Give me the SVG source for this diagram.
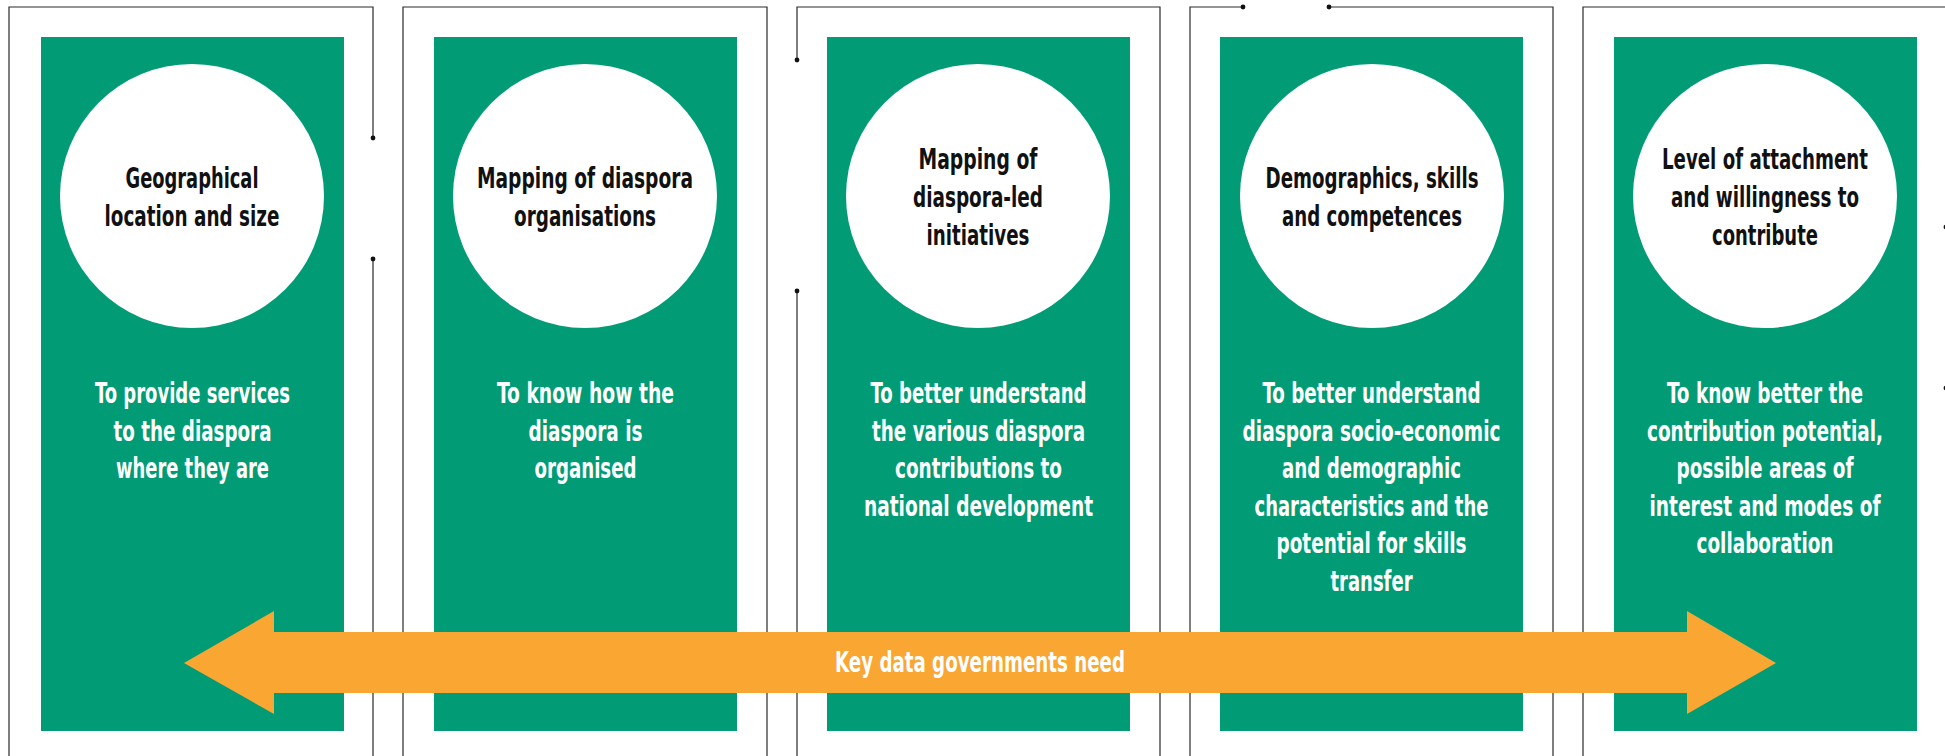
<svg xmlns="http://www.w3.org/2000/svg" width="1945" height="756" viewBox="0 0 1945 756">
  <style>
    .frame { fill: none; stroke: #2a2a2a; stroke-width: 1.2; }
    .dot { fill: #111; }
    .card { fill: #019C76; }
    .disc { fill: #ffffff; }
    .title { font-family: "Liberation Sans Narrow", "DejaVu Sans Condensed", "Roboto", sans-serif; font-weight: bold; font-size: 29px; fill: #111; text-anchor: middle; }
    .desc { font-family: "Liberation Sans Narrow", "DejaVu Sans Condensed", "Roboto", sans-serif; font-weight: bold; font-size: 28px; fill: #ffffff; text-anchor: middle; }
    .band { fill: #F9A633; }
    .bandlabel { font-family: "Liberation Sans Narrow", "DejaVu Sans Condensed", "Roboto", sans-serif; font-weight: bold; font-size: 28px; fill: #ffffff; }
  </style>

  <!-- open frames with dotted break points -->
  <g id="connectors">
    <path class="frame" d="M373,138 V7 H9 V756 M373,259 V756"/>
    <circle class="dot" cx="373" cy="138" r="2.4"/>
    <circle class="dot" cx="373" cy="259" r="2.4"/>

    <path class="frame" d="M403,756 V7 H767 V756"/>

    <path class="frame" d="M797,60 V7 H1160 V756 M797,291 V756"/>
    <circle class="dot" cx="797" cy="60" r="2.4"/>
    <circle class="dot" cx="797" cy="291" r="2.4"/>

    <path class="frame" d="M1243,7 H1190 V756 M1329,7 H1553 V756"/>
    <circle class="dot" cx="1243" cy="7" r="2.4"/>
    <circle class="dot" cx="1329" cy="7" r="2.4"/>

    <path class="frame" d="M1583,756 V7 H1946 V227 M1946,388 V756"/>
    <circle class="dot" cx="1946" cy="227" r="2.4"/>
    <circle class="dot" cx="1946" cy="388" r="2.4"/>
  </g>

  <g id="node-location">
    <rect class="card" x="41" y="37" width="303" height="694"/>
    <circle class="disc" cx="192" cy="196" r="132"/>
    <text class="title" x="192" y="188" textLength="133" lengthAdjust="spacingAndGlyphs">Geographical</text>
    <text class="title" x="192" y="226" textLength="175" lengthAdjust="spacingAndGlyphs">location and size</text>
    <text class="desc" x="192.5" y="403" textLength="195" lengthAdjust="spacingAndGlyphs">To provide services</text>
    <text class="desc" x="192.5" y="440.5" textLength="158" lengthAdjust="spacingAndGlyphs">to the diaspora</text>
    <text class="desc" x="192.5" y="478" textLength="153" lengthAdjust="spacingAndGlyphs">where they are</text>
  </g>

  <g id="node-organisations">
    <rect class="card" x="434" y="37" width="303" height="694"/>
    <circle class="disc" cx="585" cy="196" r="132"/>
    <text class="title" x="585" y="188" textLength="216" lengthAdjust="spacingAndGlyphs">Mapping of diaspora</text>
    <text class="title" x="585" y="226" textLength="142" lengthAdjust="spacingAndGlyphs">organisations</text>
    <text class="desc" x="585.5" y="403" textLength="177" lengthAdjust="spacingAndGlyphs">To know how the</text>
    <text class="desc" x="585.5" y="440.5" textLength="114" lengthAdjust="spacingAndGlyphs">diaspora is</text>
    <text class="desc" x="585.5" y="478" textLength="102" lengthAdjust="spacingAndGlyphs">organised</text>
  </g>

  <g id="node-initiatives">
    <rect class="card" x="827" y="37" width="303" height="694"/>
    <circle class="disc" cx="978" cy="196" r="132"/>
    <text class="title" x="978" y="169" textLength="119" lengthAdjust="spacingAndGlyphs">Mapping of</text>
    <text class="title" x="978" y="207" textLength="130" lengthAdjust="spacingAndGlyphs">diaspora-led</text>
    <text class="title" x="978" y="245" textLength="103" lengthAdjust="spacingAndGlyphs">initiatives</text>
    <text class="desc" x="978.5" y="403" textLength="216" lengthAdjust="spacingAndGlyphs">To better understand</text>
    <text class="desc" x="978.5" y="440.5" textLength="213" lengthAdjust="spacingAndGlyphs">the various diaspora</text>
    <text class="desc" x="978.5" y="478" textLength="167" lengthAdjust="spacingAndGlyphs">contributions to</text>
    <text class="desc" x="978.5" y="515.5" textLength="229" lengthAdjust="spacingAndGlyphs">national development</text>
  </g>

  <g id="node-demographics">
    <rect class="card" x="1220" y="37" width="303" height="694"/>
    <circle class="disc" cx="1372" cy="196" r="132"/>
    <text class="title" x="1372" y="188" textLength="213" lengthAdjust="spacingAndGlyphs">Demographics, skills</text>
    <text class="title" x="1372" y="226" textLength="180" lengthAdjust="spacingAndGlyphs">and competences</text>
    <text class="desc" x="1371.5" y="403" textLength="218" lengthAdjust="spacingAndGlyphs">To better understand</text>
    <text class="desc" x="1371.5" y="440.5" textLength="258" lengthAdjust="spacingAndGlyphs">diaspora socio-economic</text>
    <text class="desc" x="1371.5" y="478" textLength="179" lengthAdjust="spacingAndGlyphs">and demographic</text>
    <text class="desc" x="1371.5" y="515.5" textLength="234" lengthAdjust="spacingAndGlyphs">characteristics and the</text>
    <text class="desc" x="1371.5" y="553" textLength="190" lengthAdjust="spacingAndGlyphs">potential for skills</text>
    <text class="desc" x="1371.5" y="590.5" textLength="82" lengthAdjust="spacingAndGlyphs">transfer</text>
  </g>

  <g id="node-attachment">
    <rect class="card" x="1614" y="37" width="303" height="694"/>
    <circle class="disc" cx="1765" cy="196" r="132"/>
    <text class="title" x="1765" y="169" textLength="206" lengthAdjust="spacingAndGlyphs">Level of attachment</text>
    <text class="title" x="1765" y="207" textLength="188" lengthAdjust="spacingAndGlyphs">and willingness to</text>
    <text class="title" x="1765" y="245" textLength="106" lengthAdjust="spacingAndGlyphs">contribute</text>
    <text class="desc" x="1765" y="403" textLength="196" lengthAdjust="spacingAndGlyphs">To know better the</text>
    <text class="desc" x="1765" y="440.5" textLength="236" lengthAdjust="spacingAndGlyphs">contribution potential,</text>
    <text class="desc" x="1765" y="478" textLength="177" lengthAdjust="spacingAndGlyphs">possible areas of</text>
    <text class="desc" x="1765" y="515.5" textLength="231" lengthAdjust="spacingAndGlyphs">interest and modes of</text>
    <text class="desc" x="1765" y="553" textLength="137" lengthAdjust="spacingAndGlyphs">collaboration</text>
  </g>

  <!-- double-headed band across all columns -->
  <g id="node-key-data">
    <polygon class="band" points="184,663 274,611 274,632 1687,632 1687,611 1776,663 1687,714 1687,693 274,693 274,714"/>
    <text class="bandlabel" x="835" y="672" textLength="290" lengthAdjust="spacingAndGlyphs">Key data governments need</text>
  </g>
</svg>
